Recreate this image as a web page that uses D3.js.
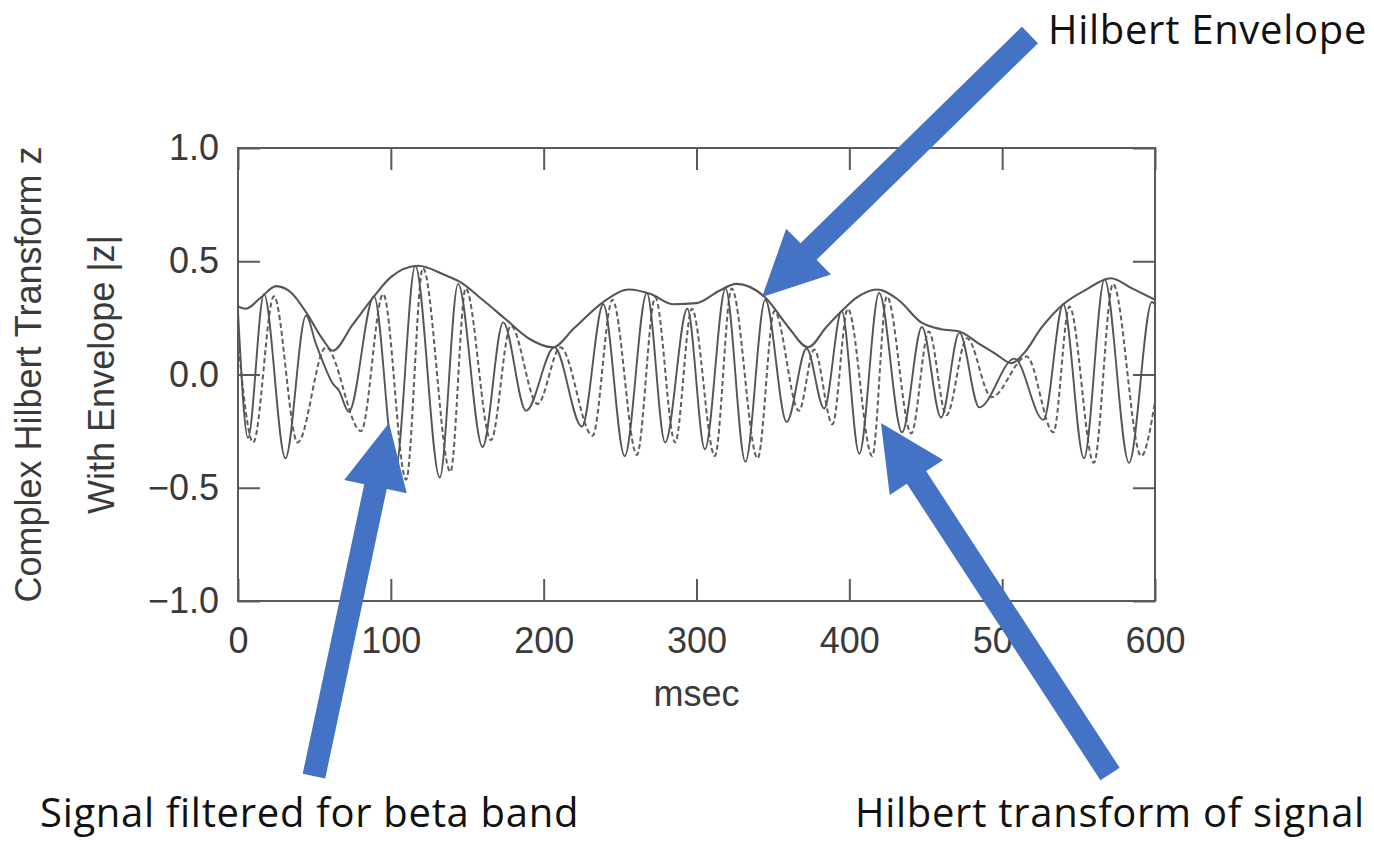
<!DOCTYPE html>
<html>
<head>
<meta charset="utf-8">
<script src="https://cdn.jsdelivr.net/npm/d3@7"></script>
<style>
  body { margin: 0; background: #fff; }
  svg { display: block; }
  .tick text { font-family: "Liberation Sans", Arial, sans-serif; font-size: 36px; fill: #3a3a3a; }
  .tick line { stroke: #5a5a5a; stroke-width: 2; }
  .note { font-family: "Open Sans", Lato, sans-serif; font-size: 40px; letter-spacing: 0.7px; fill: #111; }
</style>
</head>
<body>
<svg width="1374" height="841"></svg>
<script>
// time (msec) and value pairs
const envelope = [
  [0, 0.30], [5, 0.29], [15, 0.34], [25, 0.39], [35, 0.36], [45, 0.27], [55, 0.16], [62, 0.105],
  [75, 0.22], [89, 0.345], [100, 0.43], [118, 0.48], [135, 0.44], [145, 0.41], [160, 0.33],
  [175, 0.245], [190, 0.16], [206, 0.12], [220, 0.205], [239, 0.32], [256, 0.375], [270, 0.355],
  [285, 0.31], [300, 0.315], [315, 0.37], [326, 0.40], [345, 0.34], [360, 0.21], [373, 0.12],
  [385, 0.21], [395, 0.28], [405, 0.34], [418, 0.375], [432, 0.33], [447, 0.23], [460, 0.20],
  [472, 0.19], [485, 0.135], [496, 0.09], [506, 0.05], [515, 0.10], [525, 0.20], [540, 0.31],
  [555, 0.375], [571, 0.425], [585, 0.38], [600, 0.33]
];

const betaSignal = [
  [0, 0.28], [6.5, -0.28], [17, 0.355], [31, -0.37], [44.5, 0.26], [51, 0.135], [56.5, 0.04],
  [62, -0.04], [66, -0.07], [72.5, -0.165], [89, 0.345], [103, -0.42], [116, 0.48], [132, -0.455],
  [144, 0.40], [160, -0.32], [173.5, 0.23], [188.5, -0.16], [207, 0.12], [225, -0.23], [239, 0.31],
  [253, -0.36], [267.5, 0.36], [279.5, -0.30], [294, 0.29], [305.5, -0.33], [319, 0.38],
  [332, -0.385], [345, 0.33], [359, -0.21], [372, 0.115], [383.5, -0.15], [395, 0.28],
  [406.5, -0.35], [419.5, 0.36], [434.5, -0.255], [447.5, 0.21], [460, -0.19], [472, 0.185],
  [485, -0.145], [508, 0.07], [527, -0.20], [540, 0.31], [553.5, -0.37], [567, 0.42],
  [583, -0.39], [598, 0.32], [600, 0.31]
];

const hilbertSignal = [
  [0, 0.15], [10, -0.30], [23.5, 0.345], [39, -0.30], [57.5, 0.12], [80.5, -0.25], [95, 0.355],
  [110, -0.465], [121, 0.47], [139, -0.43], [149, 0.38], [165.5, -0.29], [178.5, 0.215],
  [196, -0.13], [211, 0.12], [232, -0.27], [245, 0.33], [261, -0.355], [273, 0.34], [286, -0.30],
  [297, 0.29], [312, -0.36], [323, 0.38], [340, -0.37], [351, 0.28], [367, -0.16], [377, 0.11],
  [389, -0.22], [399, 0.29], [415, -0.36], [424.5, 0.345], [440.5, -0.26], [452, 0.19],
  [463.5, -0.18], [477, 0.16], [493, -0.10], [516, 0.08], [533.5, -0.255], [544, 0.30],
  [560, -0.39], [572.5, 0.40], [591, -0.36], [600, -0.12]
];

const xTicks = [0, 100, 200, 300, 400, 500, 600];
const yTicks = [-1.0, -0.5, 0.0, 0.5, 1.0];

const svg = d3.select('svg');
const x = d3.scaleLinear().domain([0, 600]).range([238, 1155]);
const y = d3.scaleLinear().domain([-1, 1]).range([601, 148]);

// inward ticks on all four sides
svg.append('g')
  .attr('transform', `translate(0,${y(-1)})`)
  .call(d3.axisBottom(x).tickValues(xTicks).tickSizeInner(-22).tickSizeOuter(0).tickPadding(26))
  .call(g => g.select('.domain').remove());
svg.append('g')
  .attr('transform', `translate(0,${y(1)})`)
  .call(d3.axisTop(x).tickValues(xTicks).tickSizeInner(-22).tickSizeOuter(0).tickFormat(''))
  .call(g => g.select('.domain').remove());
svg.append('g')
  .attr('transform', `translate(${x(0)},0)`)
  .call(d3.axisLeft(y).tickValues(yTicks).tickSizeInner(-22).tickSizeOuter(0).tickPadding(19)
    .tickFormat(d3.format('.1f')))
  .call(g => g.select('.domain').remove());
svg.append('g')
  .attr('transform', `translate(${x(600)},0)`)
  .call(d3.axisRight(y).tickValues(yTicks).tickSizeInner(-22).tickSizeOuter(0).tickFormat(''))
  .call(g => g.select('.domain').remove());

svg.append('rect')
  .attr('x', x(0)).attr('y', y(1))
  .attr('width', x(600) - x(0)).attr('height', y(-1) - y(1))
  .attr('fill', 'none').attr('stroke', '#5a5a5a').attr('stroke-width', 2);

// axis titles
svg.append('text')
  .attr('x', (x(0) + x(600)) / 2).attr('y', 706)
  .attr('text-anchor', 'middle')
  .style('font-family', '"Liberation Sans", Arial, sans-serif').style('font-size', '36px').style('fill', '#3a3a3a')
  .text('msec');

const yTitle = ['Complex Hilbert Transform z', 'With Envelope |z|'];
svg.selectAll('.ytitle')
  .data(yTitle)
  .enter()
  .append('text')
  .attr('class', 'ytitle')
  .attr('transform', (d, i) => `translate(${i === 0 ? 41 : 114},${y(0)}) rotate(-90)`)
  .attr('text-anchor', 'middle')
  .style('font-family', '"Liberation Sans", Arial, sans-serif').style('font-size', '36px').style('fill', '#3a3a3a')
  .text(d => d);

// curves
const line = d3.line()
  .x(d => x(d[0]))
  .y(d => y(d[1]))
  .curve(d3.curveMonotoneX);

svg.append('path')
  .datum(hilbertSignal)
  .attr('d', line)
  .attr('fill', 'none')
  .attr('stroke', '#5e5e5e')
  .attr('stroke-width', 2)
  .attr('stroke-dasharray', '5,3');

svg.append('path')
  .datum(betaSignal)
  .attr('d', line)
  .attr('fill', 'none')
  .attr('stroke', '#555')
  .attr('stroke-width', 1.9);

svg.append('path')
  .datum(envelope)
  .attr('d', line)
  .attr('fill', 'none')
  .attr('stroke', '#555')
  .attr('stroke-width', 2.1);

// block arrows, tail and tip given in data units
function arrowPoints(tail, tip, shaft, headLen, headW) {
  const [x0, y0] = [x(tail[0]), y(tail[1])];
  const [x1, y1] = [x(tip[0]), y(tip[1])];
  const len = Math.hypot(x1 - x0, y1 - y0);
  const ux = (x1 - x0) / len, uy = (y1 - y0) / len;
  const px = -uy, py = ux;
  const bx = x1 - ux * headLen, by = y1 - uy * headLen;
  return [
    [x0 + px * shaft / 2, y0 + py * shaft / 2],
    [bx + px * shaft / 2, by + py * shaft / 2],
    [bx + px * headW / 2, by + py * headW / 2],
    [x1, y1],
    [bx - px * headW / 2, by - py * headW / 2],
    [bx - px * shaft / 2, by - py * shaft / 2],
    [x0 - px * shaft / 2, y0 - py * shaft / 2]
  ];
}

const arrows = [
  { tail: [518.2, 1.499], tip: [342.9, 0.342] },
  { tail: [49.7, -1.773], tip: [98.8, -0.214] },
  { tail: [570.6, -1.764], tip: [420.7, -0.214] }
];

svg.selectAll('.arrow')
  .data(arrows)
  .enter()
  .append('polygon')
  .attr('class', 'arrow')
  .attr('points', d => arrowPoints(d.tail, d.tip, 23, 65, 64).map(p => p.join(',')).join(' '))
  .attr('fill', '#4472C4');

// annotation labels
const notes = [
  { text: 'Hilbert Envelope', x: 1048, y: 44 },
  { text: 'Signal filtered for beta band', x: 40, y: 827 },
  { text: 'Hilbert transform of signal', x: 855, y: 827 }
];
svg.selectAll('.note')
  .data(notes)
  .enter()
  .append('text')
  .attr('class', 'note')
  .attr('x', d => d.x)
  .attr('y', d => d.y)
  .text(d => d.text);
</script>
</body>
</html>
